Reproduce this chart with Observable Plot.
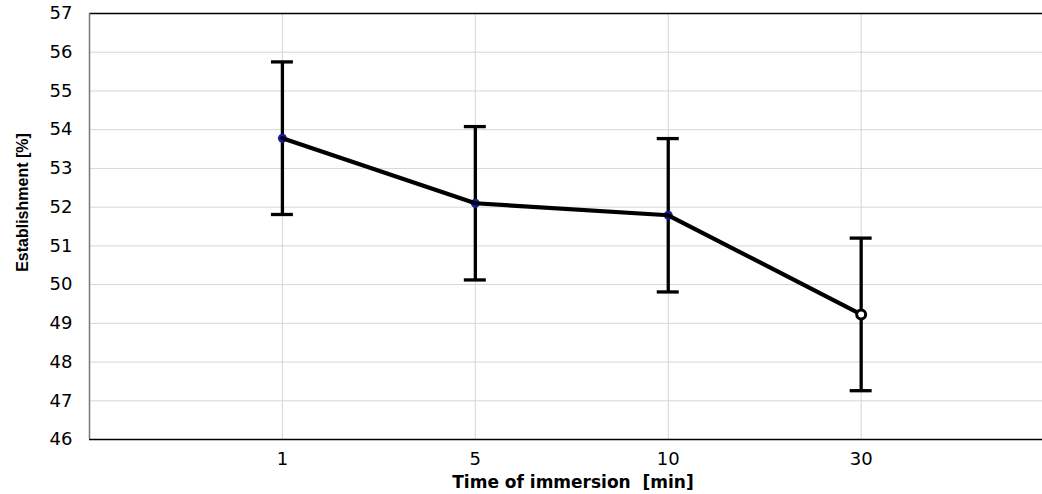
<!DOCTYPE html>
<html><head><meta charset="utf-8">
<script src="https://cdn.jsdelivr.net/npm/d3@7"></script>
<script src="https://cdn.jsdelivr.net/npm/@observablehq/plot@0.6"></script>
<style>
body{margin:0;background:#fff}
g[aria-label="y-axis tick label"] text, g[aria-label="x-axis tick label"] text{font-size:18px;font-family:"DejaVu Sans",sans-serif}
</style>
</head><body><div id="chart"></div>
<script>
const times = ["1", "5", "10", "30"];
const means = [53.78, 52.10, 51.79, 49.23];
const errors = [1.97, 1.98, 1.98, 1.97];
const yTicks = [46, 47, 48, 49, 50, 51, 52, 53, 54, 55, 56, 57];
const dotFill = ["#1c1ca8", "#1c1ca8", "#1c1ca8", "white"];
const xLabel = "Time of immersion  [min]";
const yLabel = "Establishment [%]";

const data = times.map((t, i) => ({
  pos: i + 1, label: t, mean: means[i],
  lo: means[i] - errors[i], hi: means[i] + errors[i], fill: dotFill[i]
}));
const capHalf = 0.057;

const chart = Plot.plot({
  width: 1042, height: 494,
  marginLeft: 89, marginRight: 0, marginTop: 13, marginBottom: 55,
  style: {fontFamily: "DejaVu Sans, sans-serif", fontSize: "18px", color: "black", background: "white"},
  x: {domain: [0, 4.94]},
  y: {domain: [46, 57]},
  marks: [
    Plot.gridY(yTicks, {stroke: "#d6d6d6", strokeOpacity: 1}),
    Plot.gridX([1, 2, 3, 4], {stroke: "#d6d6d6", strokeOpacity: 1}),
    Plot.axisY({ticks: yTicks, tickSize: 0, tickPadding: 17, label: null, fontSize: 18}),
    Plot.axisX({ticks: [1, 2, 3, 4], tickFormat: d => times[d - 1], tickSize: 0, tickPadding: 13, label: null, fontSize: 18}),
    Plot.text([yLabel], {frameAnchor: "left", dx: -67, dy: -24, rotate: -90, text: d => d, fontSize: 16, fontWeight: "bold", fontFamily: "Liberation Sans, Arial, sans-serif", lineAnchor: "middle", textAnchor: "middle"}),
    Plot.text([xLabel], {frameAnchor: "bottom", dy: 43, dx: 7, text: d => d, fontSize: 17, fontWeight: "bold", fontFamily: "DejaVu Sans, sans-serif", lineAnchor: "middle"}),
    Plot.ruleY([57], {stroke: "black", strokeWidth: 1.5}),
    Plot.ruleY([46], {stroke: "black", strokeWidth: 1.5}),
    Plot.ruleX([0], {stroke: "#777", strokeWidth: 1.5}),
    Plot.ruleX(data, {x: "pos", y1: "lo", y2: "hi", stroke: "black", strokeWidth: 3.3}),
    Plot.ruleY(data, {y: "hi", x1: d => d.pos - capHalf, x2: d => d.pos + capHalf, stroke: "black", strokeWidth: 3.3}),
    Plot.ruleY(data, {y: "lo", x1: d => d.pos - capHalf, x2: d => d.pos + capHalf, stroke: "black", strokeWidth: 3.3}),
    Plot.dot(data.slice(0, 3), {x: "pos", y: "mean", r: 4.5, fill: "fill", stroke: "none"}),
    Plot.line(data, {x: "pos", y: "mean", stroke: "black", strokeWidth: 4.2}),
    Plot.dot(data.slice(3), {x: "pos", y: "mean", r: 4.5, fill: "white", stroke: "black", strokeWidth: 3})
  ]
});
document.getElementById("chart").appendChild(chart);
</script>
</body></html>
